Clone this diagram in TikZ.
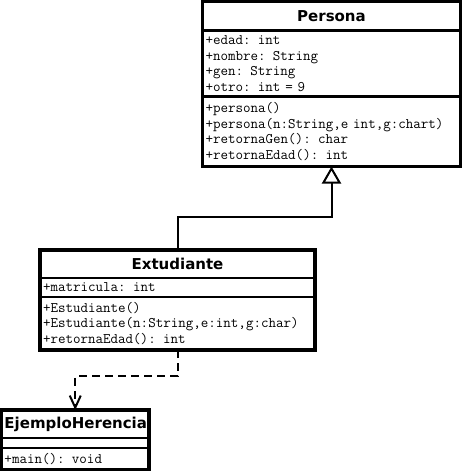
\documentclass[tikz,border=0pt]{standalone}
\usepackage{fontspec}
\setmainfont{DejaVu Sans}
\usetikzlibrary{positioning,arrows.meta}
\tikzset{
  caja/.style={draw,line width=2.5pt,outer sep=0pt,inner xsep=3pt,inner ysep=0pt,align=left,anchor=north},
  titulo/.style={caja,align=center,font=\fontsize{15}{16}\selectfont\bfseries},
  miembros/.style={caja,font=\fontsize{14.6}{15.5}\selectfont\ttfamily},
  marco/.style={line width=3.5pt},
  herencia/.style={line width=2pt,-{Triangle[open,length=17pt,width=19pt,line width=2pt,fill=white]}},
  dependencia/.style={line width=2pt,dash pattern=on 8pt off 5pt,-{Straight Barb[length=12pt,width=11pt,line width=2pt]}}
}
\begin{document}
\begin{tikzpicture}[x=1pt,y=1pt]
      \useasboundingbox (0,0) rectangle (464,-471);
      \node[titulo,text width=252pt,minimum height=29pt] (perTitulo) at (331.5,-1.5) {Persona};
      \node[miembros,text width=252pt,minimum height=66pt,below=0pt of perTitulo] (perAtrib)
        {+edad: int\\+nombre: String\\+gen: String\\+otro: int = 9};
      \node[miembros,text width=252pt,minimum height=70pt,below=0pt of perAtrib] (perMetodos)
        {+persona()\\+persona(n:String,e int,g:chart)\\+retornaGen(): char\\+retornaEdad(): int};
      \node[titulo,text width=269pt,minimum height=28pt] (extTitulo) at (177.5,-250) {Extudiante};
      \node[miembros,text width=269pt,minimum height=19pt,below=0pt of extTitulo] (extAtrib)
        {+matricula: int};
      \node[miembros,text width=269pt,minimum height=53pt,below=0pt of extAtrib] (extMetodos)
        {+Estudiante()\\+Estudiante(n:String,e:int,g:char)\\+retornaEdad(): int};
      \node[titulo,text width=141.5pt,minimum height=28pt] (ejTitulo) at (75.25,-410) {EjemploHerencia};
      \node[miembros,text width=141.5pt,minimum height=10pt,below=0pt of ejTitulo] (ejAtrib) {};
      \node[miembros,text width=141.5pt,minimum height=21.5pt,below=0pt of ejAtrib] (ejMetodos)
        {+main(): void};
      \begin{scope}[marco]
        \draw (perTitulo.north west) rectangle (perMetodos.south east);
        \draw (extTitulo.north west) rectangle (extMetodos.south east);
        \draw (ejTitulo.north west) rectangle (ejMetodos.south east);
      \end{scope}
      \draw[herencia] (extTitulo.north) |- ([yshift=-50.5pt]perMetodos.south) -- (perMetodos.south);
      \draw[dependencia] (extMetodos.south) |- ([yshift=34pt]ejTitulo.north) -- (ejTitulo.north);
    \end{tikzpicture}
\end{document}
